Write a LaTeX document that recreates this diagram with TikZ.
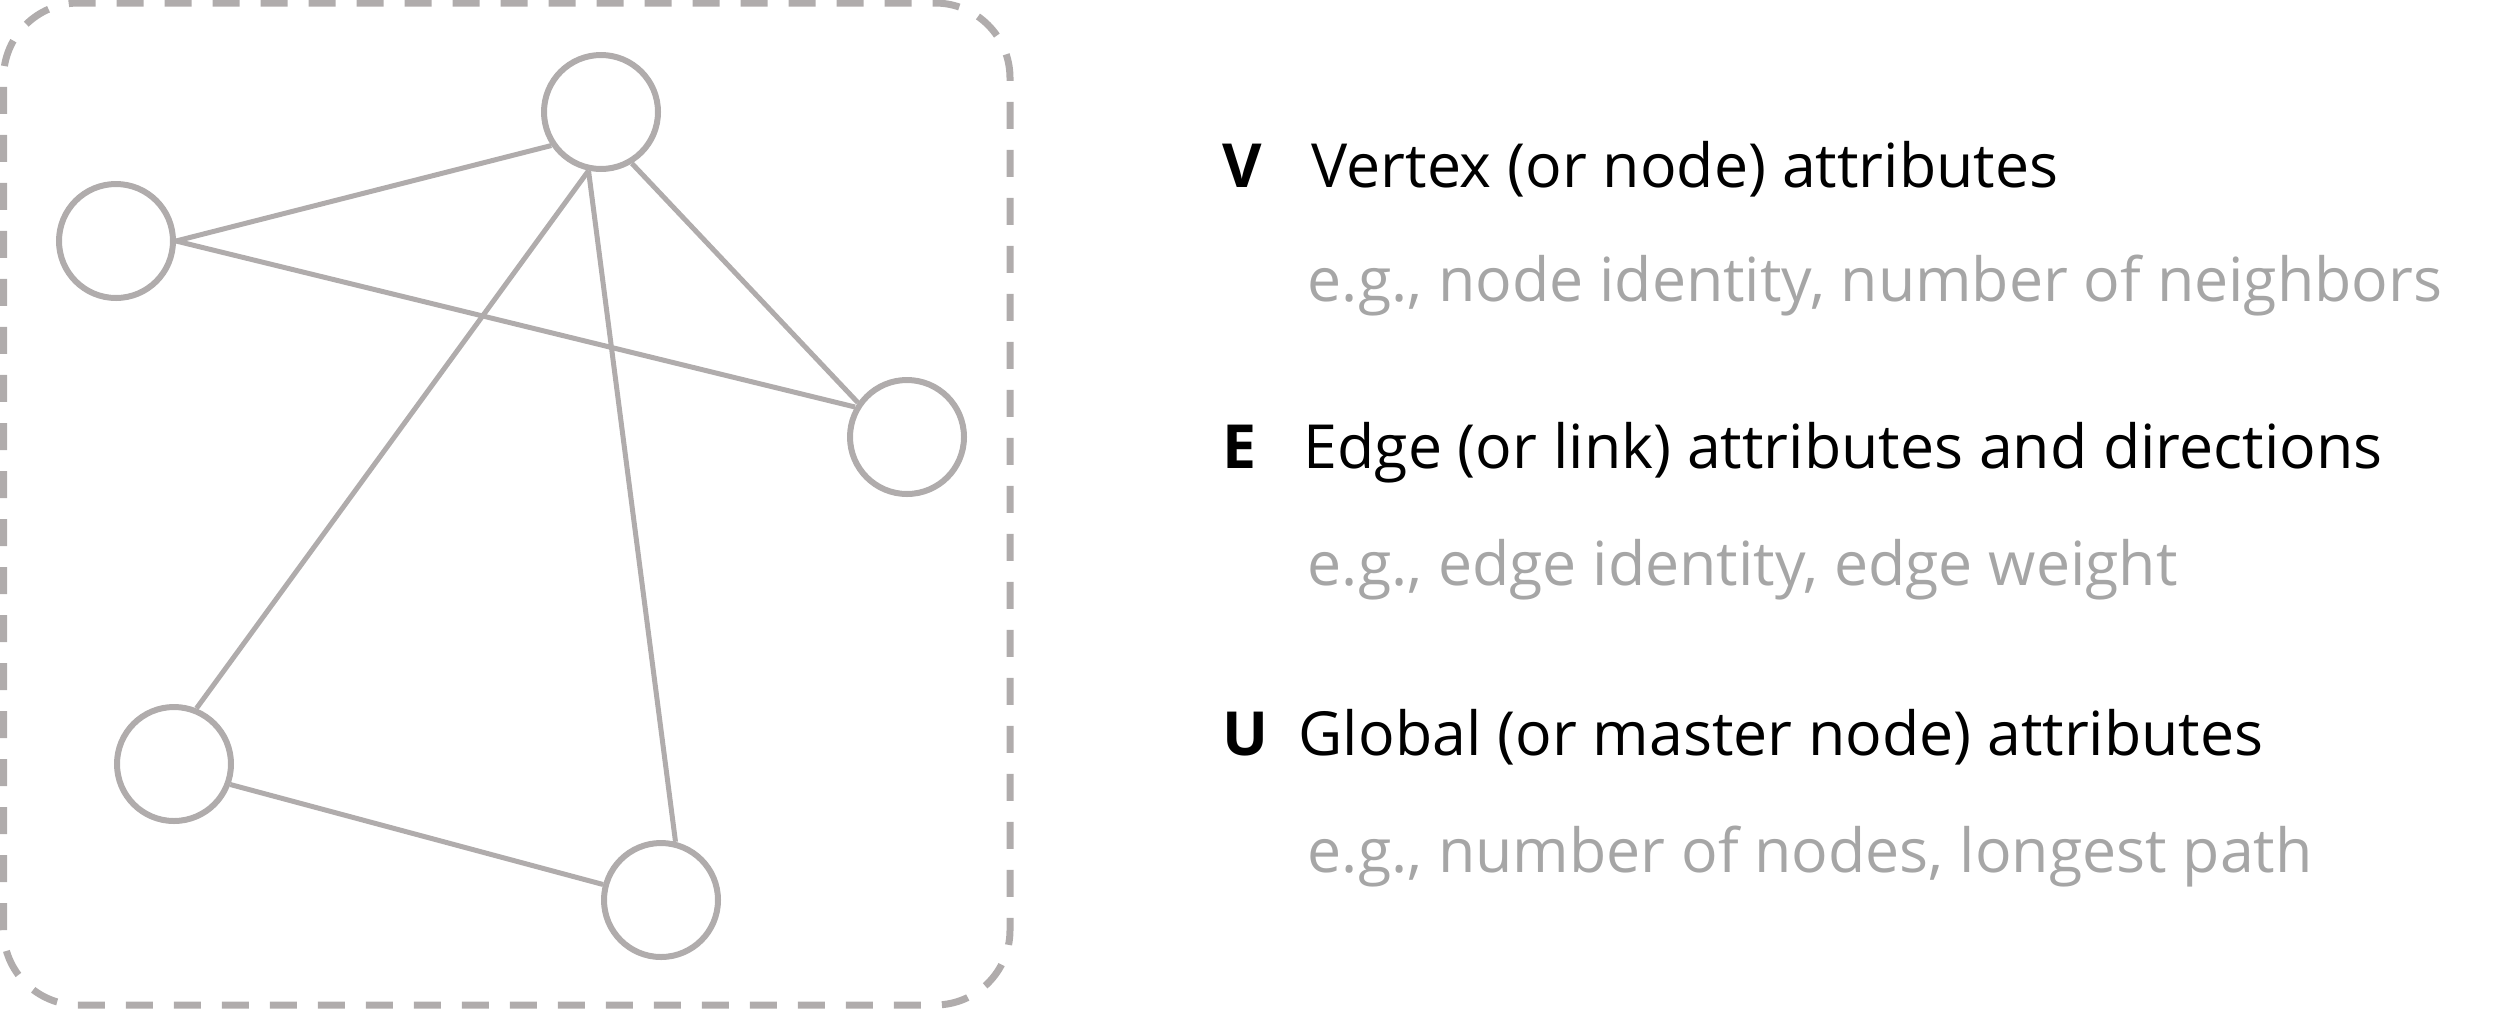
\documentclass[tikz,border=0pt]{standalone}
\usepackage{fontspec}
\setmainfont{Open Sans}
\definecolor{edgegray}{RGB}{176,172,172}
\definecolor{notegray}{RGB}{166,166,166}
\tikzset{
  vertex/.style={circle, draw=edgegray, line width=0.06cm, minimum size=1.14cm, inner sep=0pt},
  link/.style={draw=edgegray, line width=0.05cm},
  frame/.style={draw=edgegray, line width=0.07cm, dash pattern=on 0.27cm off 0.21cm, rounded corners=0.75cm},
  key/.style={anchor=base west, inner sep=0pt, font=\fontsize{17.3}{20}\selectfont\bfseries},
  attr/.style={anchor=base west, inner sep=0pt, font=\fontsize{17.3}{20}\selectfont},
  note/.style={anchor=base west, inner sep=0pt, text=notegray, font=\fontsize{17.3}{20}\selectfont}
}
\begin{document}
\begin{tikzpicture}

  \useasboundingbox (0,0) rectangle (25.01,10.09);

  % graph
  \draw[frame] (0.035,0.04) rectangle (10.10,10.06);
  \node[vertex] (top)   at (6.01,8.97) {};
  \node[vertex] (left)  at (1.16,7.68) {};
  \node[vertex] (right) at (9.07,5.72) {};
  \node[vertex] (low)   at (1.74,2.45) {};
  \node[vertex] (bot)   at (6.61,1.09) {};
  \draw[link] (left.east) -- (top.214);
  \draw[link] (left.east) -- (right.150);
  \draw[link] (top.301) -- (right.145);
  \draw[link] (top.258) -- (low.68);
  \draw[link] (top.258) -- (bot.76);
  \draw[link] (low.-20) -- (bot.165);

  % legend
  \node[key]  (kv) at (12.22,8.22) {V};
  \node[attr] (tv) at (13.11,8.22) {Vertex (or node) attributes};
  \node[note] (nv) at (13.07,7.08) {e.g., node identity, number of neighbors};
  \node[key]  (ke) at (12.22,5.41) {E};
  \node[attr] (te) at (13.03,5.41) {Edge (or link) attributes and directions};
  \node[note] (ne) at (13.07,4.24) {e.g., edge identity, edge weight};
  \node[key]  (ku) at (12.22,2.54) {U};
  \node[attr] (tu) at (12.98,2.54) {Global (or master node) attributes};
  \node[note] (nu) at (13.07,1.37) {e.g., number of nodes, longest path};

\end{tikzpicture}
\end{document}
